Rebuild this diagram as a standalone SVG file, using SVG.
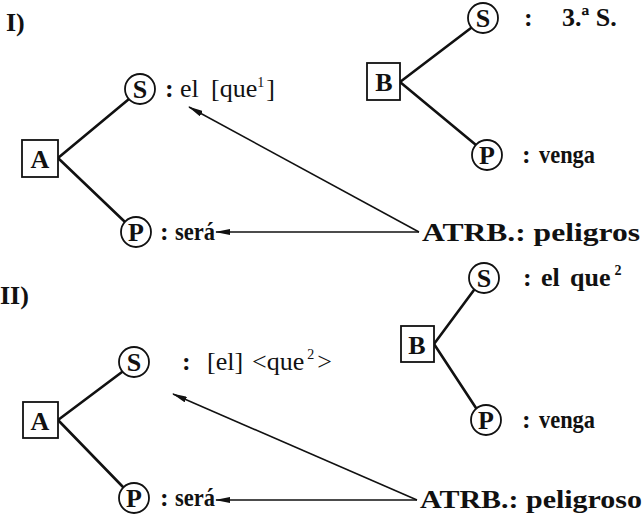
<svg xmlns="http://www.w3.org/2000/svg" width="643" height="519" viewBox="0 0 643 519">
<style>
.bg{fill:#fff}
.box{fill:#fff;stroke:#111;stroke-width:1.8}
.circ{fill:#fff;stroke:#111;stroke-width:1.8}
.edge{stroke:#111;stroke-width:2.6;fill:none;stroke-linecap:round}
.arr{stroke:#111;stroke-width:1.5;fill:none;marker-end:url(#ah)}
.lbl{font-family:"Liberation Serif","Times New Roman",serif;font-weight:bold;font-size:26px;fill:#111;text-anchor:middle}
.t{font-family:"Liberation Serif","Times New Roman",serif;font-weight:bold;font-size:26px;fill:#111}
.r{font-weight:normal}
.sup{font-size:14px}
</style>
<defs>
<marker id="ah" viewBox="0 0 15 6" refX="14" refY="3" markerWidth="15" markerHeight="6" markerUnits="userSpaceOnUse" orient="auto">
<path d="M0,0 L15,3 L0,6 Z" fill="#111"/>
</marker>
</defs>
<rect class="bg" width="643" height="519"/>
<g id="connectors">
<line class="edge" x1="58" y1="158" x2="129" y2="99"/>
<line class="edge" x1="58" y1="158" x2="125" y2="222"/>
<line class="edge" x1="400" y1="82" x2="471" y2="28"/>
<line class="edge" x1="400" y1="82" x2="476" y2="145"/>
<line class="arr" x1="419" y1="232" x2="189" y2="107"/>
<line class="arr" x1="419" y1="232" x2="216" y2="232"/>
<line class="edge" x1="58" y1="420" x2="122" y2="372"/>
<line class="edge" x1="58" y1="420" x2="123" y2="487"/>
<line class="edge" x1="434" y1="344" x2="474" y2="290"/>
<line class="edge" x1="434" y1="344" x2="476" y2="408"/>
<line class="arr" x1="417" y1="500" x2="173" y2="394"/>
<line class="arr" x1="417" y1="500" x2="216" y2="500"/>
</g>
<text class="t" x="6" y="31" font-size="32">I)</text>
<text class="t" x="0" y="304" font-size="32">II)</text>
<g id="IA"><rect class="box" x="22" y="140" width="36" height="37"/><text class="lbl" x="40" y="168">A</text></g>
<g id="IS"><circle class="circ" cx="140" cy="89" r="15"/><text class="lbl" x="140" y="98">S</text></g>
<g id="IP"><circle class="circ" cx="136" cy="232" r="15"/><text class="lbl" x="136" y="241">P</text></g>
<g id="IB"><rect class="box" x="367" y="63" width="33" height="37"/><text class="lbl" x="384" y="91">B</text></g>
<g id="IBS"><circle class="circ" cx="483" cy="18" r="15"/><text class="lbl" x="483" y="27">S</text></g>
<g id="IBP"><circle class="circ" cx="487" cy="155" r="15"/><text class="lbl" x="487" y="164">P</text></g>
<g id="IATRB"><text class="t" x="422" y="241" font-size="27" textLength="218" lengthAdjust="spacingAndGlyphs">ATRB.: peligros</text></g>
<text class="t" x="165" y="97">:</text>
<text class="t r" x="180" y="97">el</text>
<text class="t r" x="211" y="97">[que<tspan class="sup" dy="-10">1</tspan><tspan dy="10" dx="2">]</tspan></text>
<text class="t" x="160" y="240">:</text>
<text class="t" x="175" y="240" textLength="40" lengthAdjust="spacingAndGlyphs">será</text>
<text class="t" x="524" y="26">:</text>
<text class="t" x="562" y="26">3.ª S.</text>
<text class="t" x="522" y="163">:</text>
<text class="t" x="539" y="163" textLength="56" lengthAdjust="spacingAndGlyphs">venga</text>
<g id="IIA"><rect class="box" x="23" y="402" width="35" height="36"/><text class="lbl" x="40" y="430">A</text></g>
<g id="IIS"><circle class="circ" cx="134" cy="362" r="15"/><text class="lbl" x="134" y="371">S</text></g>
<g id="IIP"><circle class="circ" cx="134" cy="498" r="15"/><text class="lbl" x="134" y="507">P</text></g>
<g id="IIB"><rect class="box" x="401" y="326" width="33" height="36"/><text class="lbl" x="417" y="354">B</text></g>
<g id="IIBS"><circle class="circ" cx="484" cy="278" r="15"/><text class="lbl" x="484" y="287">S</text></g>
<g id="IIBP"><circle class="circ" cx="486" cy="420" r="15"/><text class="lbl" x="486" y="429">P</text></g>
<g id="IIATRB"><text class="t" x="420" y="508" font-size="27" textLength="222" lengthAdjust="spacingAndGlyphs">ATRB.: peligroso</text></g>
<text class="t" x="182" y="370">:</text>
<text class="t r" x="207" y="370">[el]</text>
<text class="t r" x="252" y="370">&lt;que<tspan class="sup" dy="-11" dx="3">2</tspan><tspan dy="11" dx="3">&gt;</tspan></text>
<text class="t" x="160" y="506">:</text>
<text class="t" x="175" y="506" textLength="40" lengthAdjust="spacingAndGlyphs">será</text>
<text class="t" x="523" y="286">:</text>
<text class="t" x="541" y="286">el</text>
<text class="t" x="570" y="286">que<tspan class="sup" dy="-11" dx="4">2</tspan></text>
<text class="t" x="522" y="428">:</text>
<text class="t" x="539" y="428" textLength="56" lengthAdjust="spacingAndGlyphs">venga</text>
</svg>
